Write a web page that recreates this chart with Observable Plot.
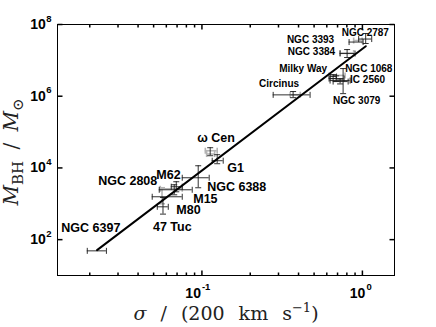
<!DOCTYPE html>
<html><head><meta charset="utf-8">
<script src="https://cdn.jsdelivr.net/npm/d3@7"></script>
<script src="https://cdn.jsdelivr.net/npm/@observablehq/plot@0.6"></script>
<style>html,body{margin:0;padding:0;background:#fff;}</style>
</head><body><div id="chart"></div>
<script>
// ---- data: main measurements (black error bars) ----
const names   = ["NGC 6397","47 Tuc","M80","M15","M62","NGC 6388","ω Cen","G1","Circinus","Milky Way","NGC 1068","IC 2560","NGC 3079","NGC 3384","NGC 3393","NGC 2787"];
const sigma   = [0.0223,0.0572,0.0591,0.0672,0.0692,0.0948,0.1126,0.1245,0.370,0.657,0.686,0.726,0.758,0.803,0.914,1.048];
const sigmaLo = [0.0193,0.0527,0.0490,0.0542,0.0644,0.0754,null,0.1159,0.278,0.630,0.620,0.657,0.629,0.726,0.826,0.948];
const sigmaHi = [0.0254,0.0617,0.0754,0.0870,0.0754,0.111,null,0.1357,0.472,0.690,0.769,0.815,0.838,0.900,1.010,1.143];
const mbh     = [48.7,824,1570,2460,2990,5320,28400,15900,1.09e6,3.53e6,3.10e6,2.56e6,2.73e6,1.55e7,3.24e7,3.93e7];
const mbhLo   = [null,515,null,1780,2160,2800,21900,13100,9.1e5,3.1e6,2.6e6,2.2e6,1.18e6,1.2e7,null,2.95e7];
const mbhHi   = [null,1500,null,3390,4120,11500,36600,23400,1.35e6,4.0e6,3.7e6,3.0e6,5.9e6,2.0e7,null,5.6e7];

// ---- data: alternative measurements (grey error bars) ----
const altNames   = ["NGC 2808","ω Cen","ω Cen","47 Tuc","NGC 3384","NGC 3393","Milky Way","Circinus"];
const altSigma   = [0.0635,0.1126,0.1126,0.0564,0.80,0.94,0.66,0.38];
const altSigmaLo = [0.055,0.105,0.107,null,0.726,0.882,0.62,0.355];
const altSigmaHi = [0.0754,0.1245,0.120,null,0.882,0.996,0.78,0.41];
const altMbh     = [2620,30200,24400,1700,1.6e7,3.57e7,3.8e6,1.1e6];
const altMbhLo   = [null,null,null,1000,null,null,null,null];
const altMbhHi   = [null,null,null,2800,null,null,null,null];

// ---- fitted relation (end points) ----
const fitSigma = [0.0222, 1.05];
const fitMass  = [51, 2.48e7];

// ---- ticks ----
const xTickExponents = [-1, 0];
const xMinorTicks = [0.02,0.03,0.04,0.05,0.06,0.07,0.08,0.09,0.2,0.3,0.4,0.5,0.6,0.7,0.8,0.9];
const yTickExponents = [2, 4, 6, 8];

// ---- build tables ----
const rows = names.map((name,i)=>({name, s:sigma[i], sLo:sigmaLo[i], sHi:sigmaHi[i], m:mbh[i], mLo:mbhLo[i], mHi:mbhHi[i]}));
const altRows = altNames.map((name,i)=>({name, s:altSigma[i], sLo:altSigmaLo[i], sHi:altSigmaHi[i], m:altMbh[i], mLo:altMbhLo[i], mHi:altMbhHi[i]}));
const fitRows = fitSigma.map((s,i)=>({s, m:fitMass[i]}));
const xMajor = xTickExponents.map(e=>10**e);
const yMajor = yTickExponents.map(e=>10**e);

// label layout (pixel offsets from the measurement, anchor, size)
const labelLayout = {
  "NGC 2787":[-24,-6.5,"start",10],
  "NGC 3393":[-22,-2,"end",10],
  "NGC 3384":[-12,-2,"end",10],
  "Milky Way":[-6,-8,"end",10],
  "NGC 1068":[9,-10,"start",10],
  "IC 2560":[10,-2,"start",10],
  "NGC 3079":[-10,20,"start",10],
  "Circinus":[-34,-11,"start",10],
  "ω Cen":[-13,-14,"start",12.5],
  "G1":[10,7,"start",12.5],
  "M62":[-20,-12,"start",12.5],
  "NGC 2808":[-13,-8,"end",12.5],
  "NGC 6388":[9,9,"start",12.5],
  "M15":[19,9,"start",12.5],
  "M80":[11,13,"start",12.5],
  "47 Tuc":[-10,20,"start",12.5],
  "NGC 6397":[-36,-23,"start",12.5]
};

const vline = {draw(ctx,size){const r=Math.sqrt(size/Math.PI);ctx.moveTo(0,-r);ctx.lineTo(0,r);}};
const hline = {draw(ctx,size){const r=Math.sqrt(size/Math.PI);ctx.moveTo(-r,0);ctx.lineTo(r,0);}};

function errorMarks(data, stroke, sw){
  const h = data.filter(d=>d.sLo!=null);
  const v = data.filter(d=>d.mLo!=null);
  return [
    Plot.ruleY(h,{y:"m",x1:"sLo",x2:"sHi",stroke,strokeWidth:sw}),
    Plot.dot(h,{x:"sLo",y:"m",symbol:vline,r:3,fill:"none",stroke,strokeWidth:sw}),
    Plot.dot(h,{x:"sHi",y:"m",symbol:vline,r:3,fill:"none",stroke,strokeWidth:sw}),
    Plot.ruleX(v,{x:"s",y1:"mLo",y2:"mHi",stroke,strokeWidth:sw}),
    Plot.dot(v,{x:"s",y:"mLo",symbol:hline,r:3,fill:"none",stroke,strokeWidth:sw}),
    Plot.dot(v,{x:"s",y:"mHi",symbol:hline,r:3,fill:"none",stroke,strokeWidth:sw})
  ];
}

const labelMarks = Object.keys(labelLayout).map(name=>{
  const d = rows.find(r=>r.name===name) || altRows.find(r=>r.name===name);
  const [dx,dy,anchor,size] = labelLayout[name];
  return Plot.text([d],{x:"s",y:"m",text:"name",dx,dy,textAnchor:anchor,fontSize:size,fontWeight:"bold",fill:"black",lineAnchor:"middle"});
});

const tickFont = {fontWeight:"bold",fill:"black"};
const xTickLabels = xTickExponents.flatMap((e,i)=>{
  const ex = String(e);
  const dx0 = ex.length>1 ? -1 : 3;
  return [
    Plot.text([xMajor[i]],{x:d=>d,frameAnchor:"bottom",text:()=>"10",textAnchor:"end",dx:dx0,dy:18,fontSize:14,lineAnchor:"middle",...tickFont}),
    Plot.text([xMajor[i]],{x:d=>d,frameAnchor:"bottom",text:()=>ex,textAnchor:"start",dx:dx0+1,dy:11,fontSize:9.5,lineAnchor:"middle",...tickFont})
  ];
});
const yTickLabels = [
  Plot.text(yMajor,{y:d=>d,frameAnchor:"left",text:()=>"10",textAnchor:"end",dx:-11.7,fontSize:14,lineAnchor:"middle",...tickFont}),
  Plot.text(yMajor,{y:d=>d,frameAnchor:"left",text:(d,i)=>String(yTickExponents[i]),textAnchor:"start",dx:-11.2,dy:-6,fontSize:9.5,lineAnchor:"middle",...tickFont})
];

const tickMarks = [
  Plot.dot(xMajor,{x:d=>d,frameAnchor:"bottom",symbol:vline,r:2.5,dy:-2.5,fill:"none",stroke:"black"}),
  Plot.dot(xMajor,{x:d=>d,frameAnchor:"top",symbol:vline,r:2.5,dy:2.5,fill:"none",stroke:"black"}),
  Plot.dot(xMinorTicks,{x:d=>d,frameAnchor:"bottom",symbol:vline,r:1.5,dy:-1.5,fill:"none",stroke:"black"}),
  Plot.dot(xMinorTicks,{x:d=>d,frameAnchor:"top",symbol:vline,r:1.5,dy:1.5,fill:"none",stroke:"black"}),
  Plot.dot(yMajor,{y:d=>d,frameAnchor:"left",symbol:hline,r:2.5,dx:2.5,fill:"none",stroke:"black"}),
  Plot.dot(yMajor,{y:d=>d,frameAnchor:"right",symbol:hline,r:2.5,dx:-2.5,fill:"none",stroke:"black"})
];

const chart = Plot.plot({
  width:436, height:327,
  marginLeft:57, marginRight:42, marginTop:24, marginBottom:52,
  style:{fontFamily:"'Liberation Sans', Arial, Helvetica, sans-serif", background:"white", overflow:"visible"},
  x:{type:"log", domain:[10**-1.9, 10**0.2], axis:null},
  y:{type:"log", domain:[10, 1e8], axis:null},
  marks:[
    ...errorMarks(altRows,"#b4b4b4",1.6),
    ...errorMarks(rows,"#1a1a1a",0.9),
    Plot.line(fitRows,{x:"s",y:"m",stroke:"black",strokeWidth:2}),
    Plot.frame({stroke:"black",strokeWidth:1}),
    ...tickMarks,
    ...xTickLabels,
    ...yTickLabels,
    ...labelMarks
  ]
});
document.getElementById("chart").appendChild(chart);

// axis titles with sub/superscripts as real text
const svg = d3.select(chart);
const serif = "'DejaVu Serif', 'Liberation Serif', serif";
const xt = svg.append("text").attr("x",226).attr("y",320).attr("text-anchor","middle")
  .attr("font-family",serif).attr("font-size",19).attr("fill","#222")
  .attr("word-spacing",8).style("white-space","pre");
xt.append("tspan").attr("font-style","italic").text("σ");
xt.append("tspan").text(" / (200 km s");
xt.append("tspan").attr("font-size",13).attr("dy",-8).text("−1");
xt.append("tspan").attr("dy",8).text(")");

const yt = svg.append("text").attr("transform","translate(18,152) rotate(-90)").attr("text-anchor","middle")
  .attr("font-family",serif).attr("font-size",20).attr("fill","#222")
  .attr("word-spacing",5).style("white-space","pre");
yt.append("tspan").attr("font-style","italic").text("M");
yt.append("tspan").attr("font-size",15).attr("dy",5).text("BH");
yt.append("tspan").attr("dy",-5).text(" / ");
yt.append("tspan").attr("font-style","italic").text("M");
yt.append("tspan").attr("font-size",15).attr("dy",5).text("⊙");
</script>
</body></html>
